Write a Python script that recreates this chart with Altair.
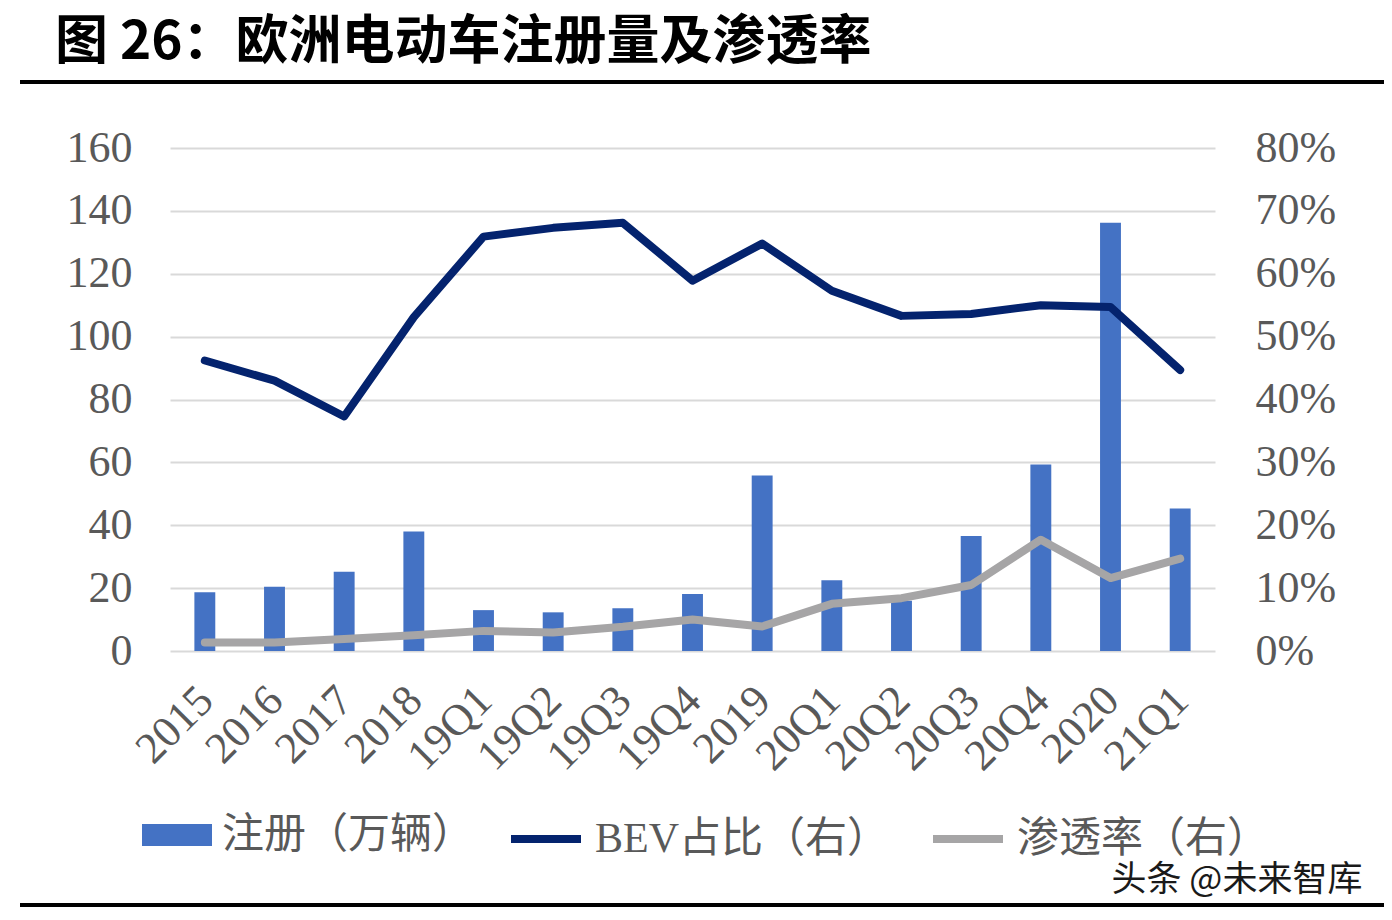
import altair as alt
import pandas as pd

categories = ["2015", "2016", "2017", "2018", "19Q1", "19Q2", "19Q3", "19Q4",
              "2019", "20Q1", "20Q2", "20Q3", "20Q4", "2020", "21Q1"]
registrations = [18.7, 20.4, 25.2, 38.0, 13.0, 12.3, 13.6, 18.1,
                 55.8, 22.5, 16.0, 36.6, 59.3, 136.2, 45.3]
bev_share = [46.2, 43.0, 37.3, 53.1, 65.9, 67.3, 68.1, 58.9,
             64.8, 57.3, 53.3, 53.6, 55.0, 54.7, 44.7]
penetration = [1.35, 1.35, 1.9, 2.5, 3.2, 2.95, 3.85, 5.0,
               3.9, 7.5, 8.4, 10.5, 17.7, 11.6, 14.7]

bar_name = "注册（万辆）"
line_names = ["BEV占比（右）", "渗透率（右）"]
bar_color = "#4472C4"
line_colors = ["#04236E", "#A6A5A6"]

title_text = "图 26：欧洲电动车注册量及渗透率"
watermark = "头条 @未来智库"

bar_df = pd.DataFrame({"cat": categories, "value": registrations,
                       "series": bar_name})
line_df = pd.concat([
    pd.DataFrame({"cat": categories, "value": [v / 100 for v in bev_share],
                  "series": line_names[0]}),
    pd.DataFrame({"cat": categories, "value": [v / 100 for v in penetration],
                  "series": line_names[1]}),
])

SERIF = "Liberation Serif, Noto Sans CJK SC"
LABEL_COLOR = "#595959"
GRID = "#D9D9D9"
AXIS_FS = 44

x_enc = alt.X(
    "cat:N", sort=categories, title=None,
    scale=alt.Scale(paddingInner=0.7, paddingOuter=0.35),
    axis=alt.Axis(labelAngle=-45, labelFont=SERIF, labelFontSize=AXIS_FS,
                  labelColor=LABEL_COLOR, domain=False, ticks=False,
                  labelPadding=27, labelOffset=-14, grid=False),
)

legend_common = dict(
    title=None, orient="none", legendY=652, direction="horizontal",
    symbolSize=4900, labelFont=SERIF, labelFontSize=42, labelLimit=500,
    labelColor=LABEL_COLOR, labelOffset=10, columnPadding=27,
)

bars = alt.Chart(bar_df).mark_bar().encode(
    x=x_enc,
    y=alt.Y("value:Q", title=None,
            scale=alt.Scale(domain=[0, 160], nice=False),
            axis=alt.Axis(values=list(range(0, 161, 20)), grid=True,
                          gridColor=GRID, gridWidth=2, domain=False,
                          ticks=False, labelFont=SERIF, labelFontSize=AXIS_FS,
                          labelColor=LABEL_COLOR, labelPadding=38)),
    color=alt.Color("series:N",
                    scale=alt.Scale(domain=[bar_name], range=[bar_color]),
                    legend=alt.Legend(legendX=-28,
                                      symbolType="M-1,-0.314H1V0.314H-1Z",
                                      symbolStrokeWidth=0,
                                      **legend_common)),
)

lines = alt.Chart(line_df).mark_line(
    strokeWidth=8, strokeCap="round", strokeJoin="round"
).encode(
    x=x_enc,
    y=alt.Y("value:Q", title=None,
            scale=alt.Scale(domain=[0, 0.8], nice=False),
            axis=alt.Axis(orient="right", format=".0%",
                          values=[i / 10 for i in range(0, 9)], grid=False,
                          domain=False, ticks=False, labelFont=SERIF,
                          labelFontSize=AXIS_FS, labelColor=LABEL_COLOR,
                          labelPadding=40)),
    color=alt.Color("series:N",
                    scale=alt.Scale(domain=line_names, range=line_colors),
                    legend=alt.Legend(legendX=337, symbolType="stroke",
                                      symbolStrokeWidth=8,
                                      **legend_common)),
)

deco = pd.DataFrame({"t": [watermark], "title": [title_text]})
title_mark = alt.Chart(deco).mark_text(
    font="Noto Sans CJK SC", fontSize=53, fontWeight="bold", color="black",
    align="left", baseline="alphabetic"
).encode(text="title:N", x=alt.value(-115), y=alt.value(-89))
top_rule = alt.Chart(deco).mark_rule(color="black", strokeWidth=4).encode(
    x=alt.value(-150), x2=alt.value(1214), y=alt.value(-66)
)
bottom_rule = alt.Chart(deco).mark_rule(color="black", strokeWidth=4).encode(
    x=alt.value(-150), x2=alt.value(1214), y=alt.value(757)
)
wm = alt.Chart(deco).mark_text(
    font="Noto Sans CJK SC", fontSize=35, color="#1a1a1a", align="center",
    baseline="alphabetic"
).encode(text="t:N", x=alt.value(1067), y=alt.value(743))

chart = alt.layer(
    bars, lines, title_mark, top_rule, bottom_rule, wm
).resolve_scale(y="independent", color="independent").properties(
    width=1045, height=503, background="white",
    padding={"left": 162, "top": 140, "right": 169, "bottom": 258},
    autosize=alt.AutoSizeParams(type="none"),
).configure_view(stroke=None)

chart.save("out.html", embed_options={"renderer": "svg", "actions": False})
